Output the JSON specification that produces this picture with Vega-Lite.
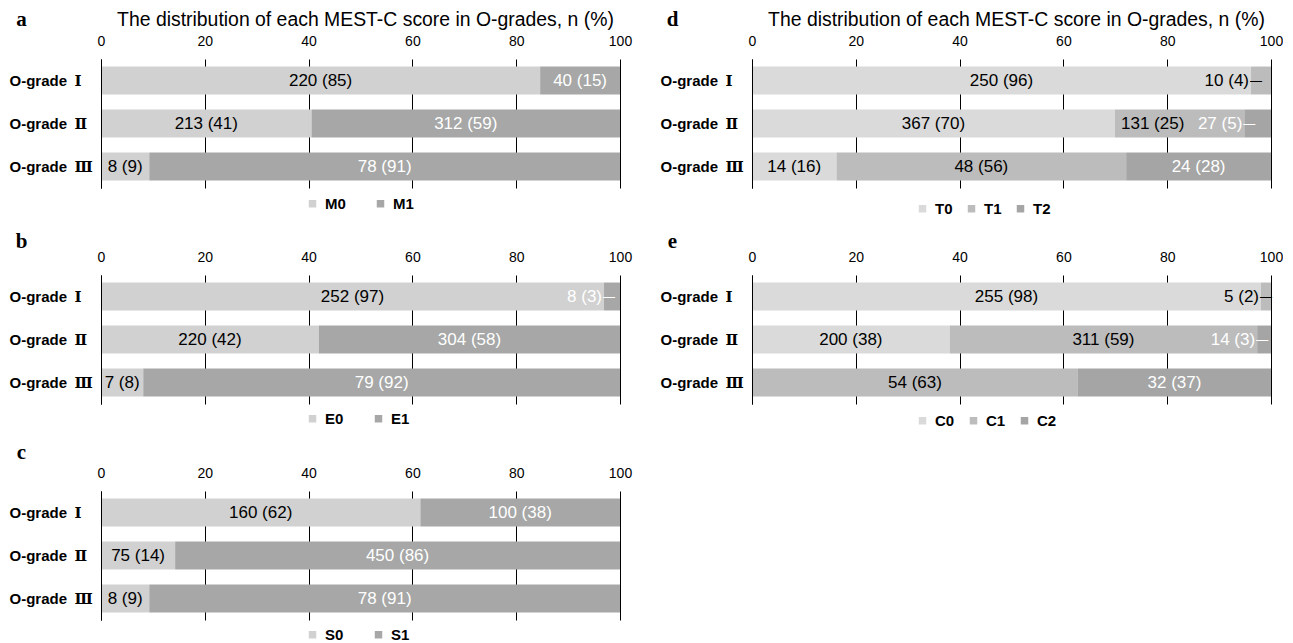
{
  "$schema": "https://vega.github.io/schema/vega-lite/v6.json",
  "background": "white",
  "padding": {"left": 9, "top": 8, "right": 0, "bottom": 0},
  "datasets": {
    "rows": [
      {"panel": "a", "grade": "O-grade Ⅰ", "score": "M0", "n": 220, "pct": 85, "label": "220 (85)"},
      {"panel": "a", "grade": "O-grade Ⅰ", "score": "M1", "n": 40, "pct": 15, "label": "40 (15)"},
      {"panel": "a", "grade": "O-grade Ⅱ", "score": "M0", "n": 213, "pct": 41, "label": "213 (41)"},
      {"panel": "a", "grade": "O-grade Ⅱ", "score": "M1", "n": 312, "pct": 59, "label": "312 (59)"},
      {"panel": "a", "grade": "O-grade Ⅲ", "score": "M0", "n": 8, "pct": 9, "label": "8 (9)"},
      {"panel": "a", "grade": "O-grade Ⅲ", "score": "M1", "n": 78, "pct": 91, "label": "78  (91)"},
      {"panel": "b", "grade": "O-grade Ⅰ", "score": "E0", "n": 252, "pct": 97, "label": "252 (97)"},
      {"panel": "b", "grade": "O-grade Ⅰ", "score": "E1", "n": 8, "pct": 3, "label": "8 (3)"},
      {"panel": "b", "grade": "O-grade Ⅱ", "score": "E0", "n": 220, "pct": 42, "label": "220 (42)"},
      {"panel": "b", "grade": "O-grade Ⅱ", "score": "E1", "n": 304, "pct": 58, "label": "304 (58)"},
      {"panel": "b", "grade": "O-grade Ⅲ", "score": "E0", "n": 7, "pct": 8, "label": "7 (8)"},
      {"panel": "b", "grade": "O-grade Ⅲ", "score": "E1", "n": 79, "pct": 92, "label": "79 (92)"},
      {"panel": "c", "grade": "O-grade Ⅰ", "score": "S0", "n": 160, "pct": 62, "label": "160 (62)"},
      {"panel": "c", "grade": "O-grade Ⅰ", "score": "S1", "n": 100, "pct": 38, "label": "100 (38)"},
      {"panel": "c", "grade": "O-grade Ⅱ", "score": "S0", "n": 75, "pct": 14, "label": "75 (14)"},
      {"panel": "c", "grade": "O-grade Ⅱ", "score": "S1", "n": 450, "pct": 86, "label": "450 (86)"},
      {"panel": "c", "grade": "O-grade Ⅲ", "score": "S0", "n": 8, "pct": 9, "label": "8 (9)"},
      {"panel": "c", "grade": "O-grade Ⅲ", "score": "S1", "n": 78, "pct": 91, "label": "78 (91)"},
      {"panel": "d", "grade": "O-grade Ⅰ", "score": "T0", "n": 250, "pct": 96, "label": "250 (96)"},
      {"panel": "d", "grade": "O-grade Ⅰ", "score": "T1", "n": 10, "pct": 4, "label": "10 (4)"},
      {"panel": "d", "grade": "O-grade Ⅱ", "score": "T0", "n": 367, "pct": 70, "label": "367 (70)"},
      {"panel": "d", "grade": "O-grade Ⅱ", "score": "T1", "n": 131, "pct": 25, "label": "131 (25)"},
      {"panel": "d", "grade": "O-grade Ⅱ", "score": "T2", "n": 27, "pct": 5, "label": "27 (5)"},
      {"panel": "d", "grade": "O-grade Ⅲ", "score": "T0", "n": 14, "pct": 16, "label": "14 (16)"},
      {"panel": "d", "grade": "O-grade Ⅲ", "score": "T1", "n": 48, "pct": 56, "label": "48 (56)"},
      {"panel": "d", "grade": "O-grade Ⅲ", "score": "T2", "n": 24, "pct": 28, "label": "24 (28)"},
      {"panel": "e", "grade": "O-grade Ⅰ", "score": "C0", "n": 255, "pct": 98, "label": "255 (98)"},
      {"panel": "e", "grade": "O-grade Ⅰ", "score": "C1", "n": 5, "pct": 2, "label": "5 (2)"},
      {"panel": "e", "grade": "O-grade Ⅱ", "score": "C0", "n": 200, "pct": 38, "label": "200 (38)"},
      {"panel": "e", "grade": "O-grade Ⅱ", "score": "C1", "n": 311, "pct": 59, "label": "311 (59)"},
      {"panel": "e", "grade": "O-grade Ⅱ", "score": "C2", "n": 14, "pct": 3, "label": "14 (3)"},
      {"panel": "e", "grade": "O-grade Ⅲ", "score": "C1", "n": 54, "pct": 63, "label": "54 (63)"},
      {"panel": "e", "grade": "O-grade Ⅲ", "score": "C2", "n": 32, "pct": 37, "label": "32 (37)"}
    ]
  },
  "columns": 2,
  "spacing": {"row": 87, "column": 132},
  "bounds": "flush",
  "resolve": {"scale": {"fill": "independent", "color": "independent", "x": "independent", "y": "independent"}, "legend": {"fill": "independent"}, "axis": {"x": "independent", "y": "independent"}},
  "concat": [
    {
      "width": 519, "height": 129,
      "data": {"name": "rows"},
      "title": {"text": "The distribution of each MEST-C score in O-grades, n (%)", "font": "Liberation Sans", "fontSize": 19.4, "fontWeight": "normal", "color": "black", "anchor": "middle", "offset": -22, "dx": 5},
      "transform": [
        {"filter": "datum.panel === 'a'"},
        {"stack": "n", "groupby": ["grade"], "sort": [{"field": "score", "order": "ascending"}], "offset": "normalize", "as": ["s0", "s1"]},
        {"calculate": "(datum.s0 + datum.s1) / 2", "as": "mid"}
      ],
      "encoding": {
        "y": {"field": "grade", "type": "nominal", "sort": ["O-grade Ⅰ", "O-grade Ⅱ", "O-grade Ⅲ"], "scale": {"paddingInner": 0.35, "paddingOuter": 0.175},
          "axis": {"title": "a", "titleAngle": 0, "titleX": -80, "titleY": -40, "titleAlign": "center", "titleBaseline": "middle", "titleFont": "Liberation Serif", "titleFontSize": 21, "titleFontWeight": "bold", "titleColor": "black", "labelExpr": "replace(datum.label, ' ', '\u2002')", "labelAlign": "left", "labelPadding": 92, "ticks": false, "tickSize": 0, "labelFont": "Liberation Sans, DejaVu Serif, Noto Sans CJK SC", "labelFontSize": 15, "labelFontWeight": "bold", "labelColor": "black", "domainColor": "black", "zindex": 1, "grid": false}}
      },
      "layer": [
        {"mark": {"type": "bar"}, "encoding": {
          "x": {"field": "s0", "type": "quantitative", "scale": {"domain": [0, 1], "nice": false}, "axis": {"orient": "top", "values": [0, 0.2, 0.4, 0.6, 0.8, 1], "labelExpr": "format(datum.value * 100, 'd')", "title": null, "domain": false, "ticks": false, "tickSize": 0, "labelPadding": 11, "labelFont": "Liberation Sans", "labelFontSize": 14, "labelColor": "black", "labelFlush": false, "grid": true, "gridColor": "black", "gridOpacity": 1, "gridWidth": 1}},
          "x2": {"field": "s1"},
          "fill": {"field": "score", "type": "nominal", "scale": {"domain": ["M0", "M1"], "range": ["#d0d1d0", "#a6a7a6"]}, "legend": {"orient": "none", "legendX": 204, "legendY": 137, "direction": "horizontal", "title": null, "symbolType": "square", "symbolSize": 56, "symbolStrokeWidth": 0, "labelFont": "Liberation Sans", "labelFontSize": 15, "labelFontWeight": "bold", "labelColor": "black", "labelOffset": 5, "columnPadding": 27}}
        }},
        {"transform": [{"filter": "datum.pct > 5"}], "mark": {"type": "text", "font": "Liberation Sans", "fontSize": 17, "baseline": "middle"}, "encoding": {
          "x": {"field": "mid", "type": "quantitative"},
          "text": {"field": "label"},
          "color": {"field": "score", "type": "nominal", "scale": {"domain": ["M0", "M1"], "range": ["black", "white"]}, "legend": null}
        }}
      ]
    },
    {
      "width": 519, "height": 129,
      "data": {"name": "rows"},
      "title": {"text": "The distribution of each MEST-C score in O-grades, n (%)", "font": "Liberation Sans", "fontSize": 19.4, "fontWeight": "normal", "color": "black", "anchor": "middle", "offset": -22, "dx": 5},
      "transform": [
        {"filter": "datum.panel === 'd'"},
        {"stack": "n", "groupby": ["grade"], "sort": [{"field": "score", "order": "ascending"}], "offset": "normalize", "as": ["s0", "s1"]},
        {"calculate": "(datum.s0 + datum.s1) / 2", "as": "mid"},
        {"window": [{"op": "lead", "field": "pct", "as": "nextpct"}], "groupby": ["grade"], "sort": [{"field": "score", "order": "ascending"}]},
        {"calculate": "datum.pct > 5 && datum.nextpct != null && datum.nextpct <= 5 && datum.s1 - datum.s0 < 0.5", "as": "crowded"}
      ],
      "encoding": {
        "y": {"field": "grade", "type": "nominal", "sort": ["O-grade Ⅰ", "O-grade Ⅱ", "O-grade Ⅲ"], "scale": {"paddingInner": 0.35, "paddingOuter": 0.175},
          "axis": {"title": "d", "titleAngle": 0, "titleX": -80, "titleY": -40, "titleAlign": "center", "titleBaseline": "middle", "titleFont": "Liberation Serif", "titleFontSize": 21, "titleFontWeight": "bold", "titleColor": "black", "labelExpr": "replace(datum.label, ' ', '\u2002')", "labelAlign": "left", "labelPadding": 92, "ticks": false, "tickSize": 0, "labelFont": "Liberation Sans, DejaVu Serif, Noto Sans CJK SC", "labelFontSize": 15, "labelFontWeight": "bold", "labelColor": "black", "domainColor": "black", "zindex": 1, "grid": false}}
      },
      "layer": [
        {"mark": {"type": "bar"}, "encoding": {
          "x": {"field": "s0", "type": "quantitative", "scale": {"domain": [0, 1], "nice": false}, "axis": {"orient": "top", "values": [0, 0.2, 0.4, 0.6, 0.8, 1], "labelExpr": "format(datum.value * 100, 'd')", "title": null, "domain": false, "ticks": false, "tickSize": 0, "labelPadding": 11, "labelFont": "Liberation Sans", "labelFontSize": 14, "labelColor": "black", "labelFlush": false, "grid": true, "gridColor": "black", "gridOpacity": 1, "gridWidth": 1}},
          "x2": {"field": "s1"},
          "fill": {"field": "score", "type": "nominal", "scale": {"domain": ["T0", "T1", "T2"], "range": ["#d9dad9", "#bcbcbc", "#a4a5a4"]}, "legend": {"orient": "none", "legendX": 163, "legendY": 142, "direction": "horizontal", "title": null, "symbolType": "square", "symbolSize": 56, "symbolStrokeWidth": 0, "labelFont": "Liberation Sans", "labelFontSize": 15, "labelFontWeight": "bold", "labelColor": "black", "labelOffset": 5, "columnPadding": 11}}
        }},
        {"transform": [{"filter": "datum.pct > 5 && !datum.crowded"}], "mark": {"type": "text", "font": "Liberation Sans", "fontSize": 17, "baseline": "middle"}, "encoding": {
          "x": {"field": "mid", "type": "quantitative"},
          "text": {"field": "label"},
          "color": {"field": "score", "type": "nominal", "scale": {"domain": ["T0", "T1", "T2"], "range": ["black", "black", "white"]}, "legend": null}
        }},
        {"transform": [{"filter": "datum.crowded"}], "mark": {"type": "text", "font": "Liberation Sans", "fontSize": 17, "baseline": "middle", "align": "right", "dx": -60}, "encoding": {
          "x": {"field": "s1", "type": "quantitative"},
          "text": {"field": "label"},
          "color": {"field": "score", "type": "nominal", "scale": {"domain": ["T0", "T1", "T2"], "range": ["black", "black", "white"]}, "legend": null}
        }},
        {"transform": [{"filter": "datum.pct <= 5"}], "mark": {"type": "text", "font": "Liberation Sans", "fontSize": 17, "baseline": "middle", "align": "right", "dx": -2}, "encoding": {
          "x": {"field": "s0", "type": "quantitative"},
          "text": {"field": "label"},
          "color": {"field": "score", "type": "nominal", "scale": {"domain": ["T0", "T1", "T2"], "range": ["black", "black", "white"]}, "legend": null}
        }},
        {"transform": [{"filter": "datum.pct <= 5"}], "mark": {"type": "text", "font": "Liberation Sans", "fontSize": 12, "baseline": "middle", "align": "left", "dx": -1, "text": "—"}, "encoding": {
          "x": {"field": "s0", "type": "quantitative"},
          "color": {"field": "score", "type": "nominal", "scale": {"domain": ["T0", "T1", "T2"], "range": ["black", "black", "white"]}, "legend": null}
        }}
      ]
    },
    {
      "width": 519, "height": 129,
      "data": {"name": "rows"},
      "transform": [
        {"filter": "datum.panel === 'b'"},
        {"stack": "n", "groupby": ["grade"], "sort": [{"field": "score", "order": "ascending"}], "offset": "normalize", "as": ["s0", "s1"]},
        {"calculate": "(datum.s0 + datum.s1) / 2", "as": "mid"}
      ],
      "encoding": {
        "y": {"field": "grade", "type": "nominal", "sort": ["O-grade Ⅰ", "O-grade Ⅱ", "O-grade Ⅲ"], "scale": {"paddingInner": 0.35, "paddingOuter": 0.175},
          "axis": {"title": "b", "titleAngle": 0, "titleX": -80, "titleY": -34, "titleAlign": "center", "titleBaseline": "middle", "titleFont": "Liberation Serif", "titleFontSize": 21, "titleFontWeight": "bold", "titleColor": "black", "labelExpr": "replace(datum.label, ' ', '\u2002')", "labelAlign": "left", "labelPadding": 92, "ticks": false, "tickSize": 0, "labelFont": "Liberation Sans, DejaVu Serif, Noto Sans CJK SC", "labelFontSize": 15, "labelFontWeight": "bold", "labelColor": "black", "domainColor": "black", "zindex": 1, "grid": false}}
      },
      "layer": [
        {"mark": {"type": "bar"}, "encoding": {
          "x": {"field": "s0", "type": "quantitative", "scale": {"domain": [0, 1], "nice": false}, "axis": {"orient": "top", "values": [0, 0.2, 0.4, 0.6, 0.8, 1], "labelExpr": "format(datum.value * 100, 'd')", "title": null, "domain": false, "ticks": false, "tickSize": 0, "labelPadding": 11, "labelFont": "Liberation Sans", "labelFontSize": 14, "labelColor": "black", "labelFlush": false, "grid": true, "gridColor": "black", "gridOpacity": 1, "gridWidth": 1}},
          "x2": {"field": "s1"},
          "fill": {"field": "score", "type": "nominal", "scale": {"domain": ["E0", "E1"], "range": ["#d0d1d0", "#a6a7a6"]}, "legend": {"orient": "none", "legendX": 204, "legendY": 136, "direction": "horizontal", "title": null, "symbolType": "square", "symbolSize": 56, "symbolStrokeWidth": 0, "labelFont": "Liberation Sans", "labelFontSize": 15, "labelFontWeight": "bold", "labelColor": "black", "labelOffset": 5, "columnPadding": 27}}
        }},
        {"transform": [{"filter": "datum.pct > 5"}], "mark": {"type": "text", "font": "Liberation Sans", "fontSize": 17, "baseline": "middle"}, "encoding": {
          "x": {"field": "mid", "type": "quantitative"},
          "text": {"field": "label"},
          "color": {"field": "score", "type": "nominal", "scale": {"domain": ["E0", "E1"], "range": ["black", "white"]}, "legend": null}
        }},
        {"transform": [{"filter": "datum.pct <= 5"}], "mark": {"type": "text", "font": "Liberation Sans", "fontSize": 17, "baseline": "middle", "align": "right", "dx": -2}, "encoding": {
          "x": {"field": "s0", "type": "quantitative"},
          "text": {"field": "label"},
          "color": {"field": "score", "type": "nominal", "scale": {"domain": ["E0", "E1"], "range": ["black", "white"]}, "legend": null}
        }},
        {"transform": [{"filter": "datum.pct <= 5"}], "mark": {"type": "text", "font": "Liberation Sans", "fontSize": 12, "baseline": "middle", "align": "left", "dx": -1, "text": "—"}, "encoding": {
          "x": {"field": "s0", "type": "quantitative"},
          "color": {"field": "score", "type": "nominal", "scale": {"domain": ["E0", "E1"], "range": ["black", "white"]}, "legend": null}
        }}
      ]
    },
    {
      "width": 519, "height": 129,
      "data": {"name": "rows"},
      "transform": [
        {"filter": "datum.panel === 'e'"},
        {"stack": "n", "groupby": ["grade"], "sort": [{"field": "score", "order": "ascending"}], "offset": "normalize", "as": ["s0", "s1"]},
        {"calculate": "(datum.s0 + datum.s1) / 2", "as": "mid"}
      ],
      "encoding": {
        "y": {"field": "grade", "type": "nominal", "sort": ["O-grade Ⅰ", "O-grade Ⅱ", "O-grade Ⅲ"], "scale": {"paddingInner": 0.35, "paddingOuter": 0.175},
          "axis": {"title": "e", "titleAngle": 0, "titleX": -80, "titleY": -34, "titleAlign": "center", "titleBaseline": "middle", "titleFont": "Liberation Serif", "titleFontSize": 21, "titleFontWeight": "bold", "titleColor": "black", "labelExpr": "replace(datum.label, ' ', '\u2002')", "labelAlign": "left", "labelPadding": 92, "ticks": false, "tickSize": 0, "labelFont": "Liberation Sans, DejaVu Serif, Noto Sans CJK SC", "labelFontSize": 15, "labelFontWeight": "bold", "labelColor": "black", "domainColor": "black", "zindex": 1, "grid": false}}
      },
      "layer": [
        {"mark": {"type": "bar"}, "encoding": {
          "x": {"field": "s0", "type": "quantitative", "scale": {"domain": [0, 1], "nice": false}, "axis": {"orient": "top", "values": [0, 0.2, 0.4, 0.6, 0.8, 1], "labelExpr": "format(datum.value * 100, 'd')", "title": null, "domain": false, "ticks": false, "tickSize": 0, "labelPadding": 11, "labelFont": "Liberation Sans", "labelFontSize": 14, "labelColor": "black", "labelFlush": false, "grid": true, "gridColor": "black", "gridOpacity": 1, "gridWidth": 1}},
          "x2": {"field": "s1"},
          "fill": {"field": "score", "type": "nominal", "scale": {"domain": ["C0", "C1", "C2"], "range": ["#d9dad9", "#bcbcbc", "#a4a5a4"]}, "legend": {"orient": "none", "legendX": 163, "legendY": 138, "direction": "horizontal", "title": null, "symbolType": "square", "symbolSize": 56, "symbolStrokeWidth": 0, "labelFont": "Liberation Sans", "labelFontSize": 15, "labelFontWeight": "bold", "labelColor": "black", "labelOffset": 5, "columnPadding": 11}}
        }},
        {"transform": [{"filter": "datum.pct > 5"}], "mark": {"type": "text", "font": "Liberation Sans", "fontSize": 17, "baseline": "middle"}, "encoding": {
          "x": {"field": "mid", "type": "quantitative"},
          "text": {"field": "label"},
          "color": {"field": "score", "type": "nominal", "scale": {"domain": ["C0", "C1", "C2"], "range": ["black", "black", "white"]}, "legend": null}
        }},
        {"transform": [{"filter": "datum.pct <= 5"}], "mark": {"type": "text", "font": "Liberation Sans", "fontSize": 17, "baseline": "middle", "align": "right", "dx": -2}, "encoding": {
          "x": {"field": "s0", "type": "quantitative"},
          "text": {"field": "label"},
          "color": {"field": "score", "type": "nominal", "scale": {"domain": ["C0", "C1", "C2"], "range": ["black", "black", "white"]}, "legend": null}
        }},
        {"transform": [{"filter": "datum.pct <= 5"}], "mark": {"type": "text", "font": "Liberation Sans", "fontSize": 12, "baseline": "middle", "align": "left", "dx": -1, "text": "—"}, "encoding": {
          "x": {"field": "s0", "type": "quantitative"},
          "color": {"field": "score", "type": "nominal", "scale": {"domain": ["C0", "C1", "C2"], "range": ["black", "black", "white"]}, "legend": null}
        }}
      ]
    },
    {
      "width": 519, "height": 129,
      "data": {"name": "rows"},
      "transform": [
        {"filter": "datum.panel === 'c'"},
        {"stack": "n", "groupby": ["grade"], "sort": [{"field": "score", "order": "ascending"}], "offset": "normalize", "as": ["s0", "s1"]},
        {"calculate": "(datum.s0 + datum.s1) / 2", "as": "mid"}
      ],
      "encoding": {
        "y": {"field": "grade", "type": "nominal", "sort": ["O-grade Ⅰ", "O-grade Ⅱ", "O-grade Ⅲ"], "scale": {"paddingInner": 0.35, "paddingOuter": 0.175},
          "axis": {"title": "c", "titleAngle": 0, "titleX": -80, "titleY": -39, "titleAlign": "center", "titleBaseline": "middle", "titleFont": "Liberation Serif", "titleFontSize": 21, "titleFontWeight": "bold", "titleColor": "black", "labelExpr": "replace(datum.label, ' ', '\u2002')", "labelAlign": "left", "labelPadding": 92, "ticks": false, "tickSize": 0, "labelFont": "Liberation Sans, DejaVu Serif, Noto Sans CJK SC", "labelFontSize": 15, "labelFontWeight": "bold", "labelColor": "black", "domainColor": "black", "zindex": 1, "grid": false}}
      },
      "layer": [
        {"mark": {"type": "bar"}, "encoding": {
          "x": {"field": "s0", "type": "quantitative", "scale": {"domain": [0, 1], "nice": false}, "axis": {"orient": "top", "values": [0, 0.2, 0.4, 0.6, 0.8, 1], "labelExpr": "format(datum.value * 100, 'd')", "title": null, "domain": false, "ticks": false, "tickSize": 0, "labelPadding": 11, "labelFont": "Liberation Sans", "labelFontSize": 14, "labelColor": "black", "labelFlush": false, "grid": true, "gridColor": "black", "gridOpacity": 1, "gridWidth": 1}},
          "x2": {"field": "s1"},
          "fill": {"field": "score", "type": "nominal", "scale": {"domain": ["S0", "S1"], "range": ["#d0d1d0", "#a6a7a6"]}, "legend": {"orient": "none", "legendX": 204, "legendY": 136, "direction": "horizontal", "title": null, "symbolType": "square", "symbolSize": 56, "symbolStrokeWidth": 0, "labelFont": "Liberation Sans", "labelFontSize": 15, "labelFontWeight": "bold", "labelColor": "black", "labelOffset": 5, "columnPadding": 27}}
        }},
        {"transform": [{"filter": "datum.pct > 5"}], "mark": {"type": "text", "font": "Liberation Sans", "fontSize": 17, "baseline": "middle"}, "encoding": {
          "x": {"field": "mid", "type": "quantitative"},
          "text": {"field": "label"},
          "color": {"field": "score", "type": "nominal", "scale": {"domain": ["S0", "S1"], "range": ["black", "white"]}, "legend": null}
        }}
      ]
    }
  ],
  "config": {"view": {"stroke": null}, "axis": {"domainColor": "black"}}
}
